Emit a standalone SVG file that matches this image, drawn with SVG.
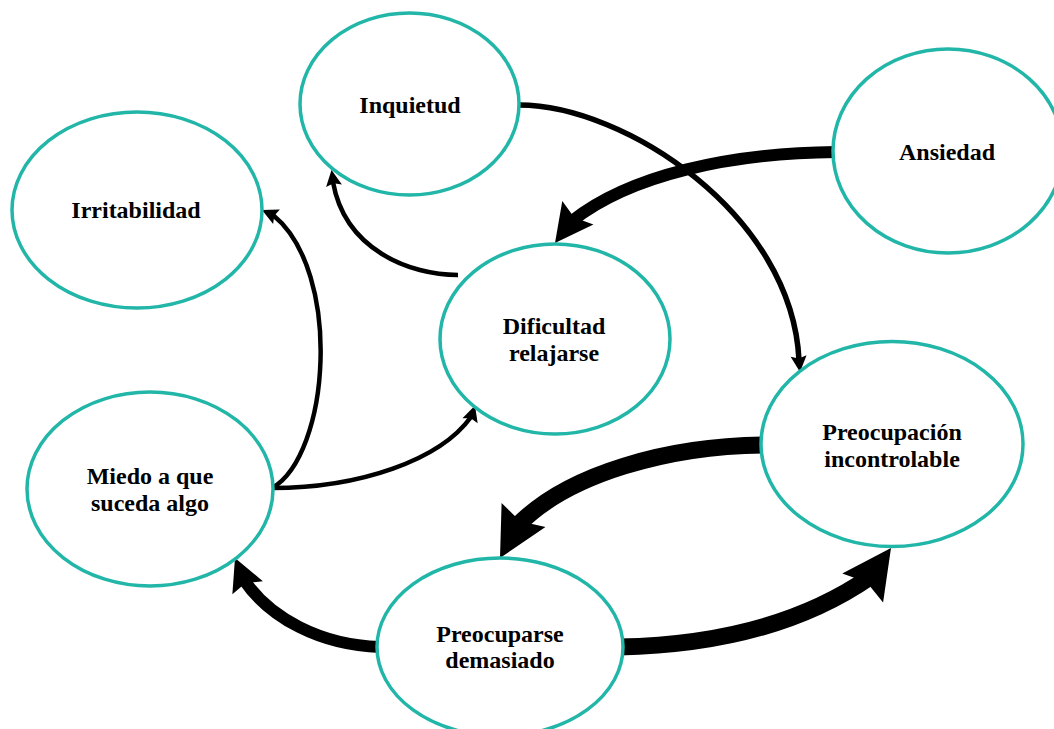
<svg xmlns="http://www.w3.org/2000/svg" width="1054" height="729" viewBox="0 0 1054 729">
  <style>
    .node ellipse { fill: #ffffff; stroke: #21b6a8; stroke-width: 3.5; }
    .node text { font-family: "Liberation Serif", "Times New Roman", serif; font-weight: bold; font-size: 24px; fill: #000000; text-anchor: middle; }
    .link { fill: none; stroke: #000000; stroke-linecap: butt; }
    .thin { stroke-width: 4.5; }
    .mid { stroke-width: 12; }
    .wide { stroke-width: 17; }
    .head { fill: #000000; }
  </style>
  <defs>
    <!-- arrowheads: tip at the origin, pointing along +x -->
    <path id="headS" d="M0,0 L-16,-8 L-13.5,0 L-16,8 Z"/>
    <path id="headM" d="M0,0 L-38,-19.5 L-32,0 L-38,19.5 Z"/>
    <path id="headL" d="M0,0 L-49,-25 L-42,0 L-49,25 Z"/>
  </defs>
  <rect width="1054" height="729" fill="#ffffff"/>

  <g id="connectors">
    <!-- Inquietud -> Preocupación incontrolable -->
    <path class="link thin" style="stroke-width:5.5" d="M519,105 C625,105 792,215 799,360"/>
    <use href="#headS" class="head" transform="translate(800,372) rotate(85)"/>
    <!-- Dificultad relajarse -> Inquietud -->
    <path class="link thin" d="M458,275 C410,275 345,250 333,182"/>
    <use href="#headS" class="head" transform="translate(331.5,170) rotate(-99)"/>
    <!-- Miedo a que suceda algo -> Irritabilidad -->
    <path class="link thin" d="M272,488 C330,455 343,272 273,215"/>
    <use href="#headS" class="head" transform="translate(262,210) rotate(-155)"/>
    <!-- Miedo a que suceda algo -> Dificultad relajarse -->
    <path class="link thin" d="M272,488 C360,488 440,460 471,417"/>
    <use href="#headS" class="head" transform="translate(475,405.5) rotate(-72)"/>
    <!-- Ansiedad -> Dificultad relajarse -->
    <path class="link mid" d="M836,152 C730,153 630,175 572,221"/>
    <use href="#headM" class="head" transform="translate(555,243) rotate(127)"/>
    <!-- Preocupación incontrolable -> Preocuparse demasiado -->
    <path class="link wide" d="M763,445 C670,446 568,473 517,526"/>
    <use href="#headL" class="head" transform="translate(500,558) rotate(118.7)"/>
    <!-- Preocuparse demasiado -> Miedo a que suceda algo -->
    <path class="link mid" d="M380,647 C320,645 270,618 244,580"/>
    <use href="#headM" class="head" transform="translate(235,558) rotate(-113) scale(0.85)"/>
    <!-- Preocuparse demasiado -> Preocupación incontrolable -->
    <path class="link wide" d="M619,647 C720,645 805,622 870,577"/>
    <use href="#headL" class="head" transform="translate(891,548) rotate(-54.7)"/>
  </g>

  <g id="inquietud" class="node">
    <ellipse cx="409.5" cy="104" rx="109.5" ry="91"/>
    <text x="410" y="113">Inquietud</text>
  </g>
  <g id="irritabilidad" class="node">
    <ellipse cx="137" cy="210" rx="125" ry="98"/>
    <text x="136" y="218">Irritabilidad</text>
  </g>
  <g id="ansiedad" class="node">
    <ellipse cx="948" cy="151" rx="115" ry="102"/>
    <text x="947" y="160">Ansiedad</text>
  </g>
  <g id="dificultad" class="node">
    <ellipse cx="555" cy="339" rx="115" ry="95"/>
    <text x="554" y="334">Dificultad</text>
    <text x="554" y="361">relajarse</text>
  </g>
  <g id="preocupacion" class="node">
    <ellipse cx="892" cy="444" rx="131" ry="102.5"/>
    <text x="892" y="440">Preocupación</text>
    <text x="892" y="467">incontrolable</text>
  </g>
  <g id="miedo" class="node">
    <ellipse cx="150" cy="489" rx="123" ry="97"/>
    <text x="150" y="484">Miedo a que</text>
    <text x="150" y="511">suceda algo</text>
  </g>
  <g id="preocuparse" class="node">
    <ellipse cx="500" cy="647" rx="123" ry="89"/>
    <text x="500" y="642">Preocuparse</text>
    <text x="500" y="668">demasiado</text>
  </g>
</svg>
